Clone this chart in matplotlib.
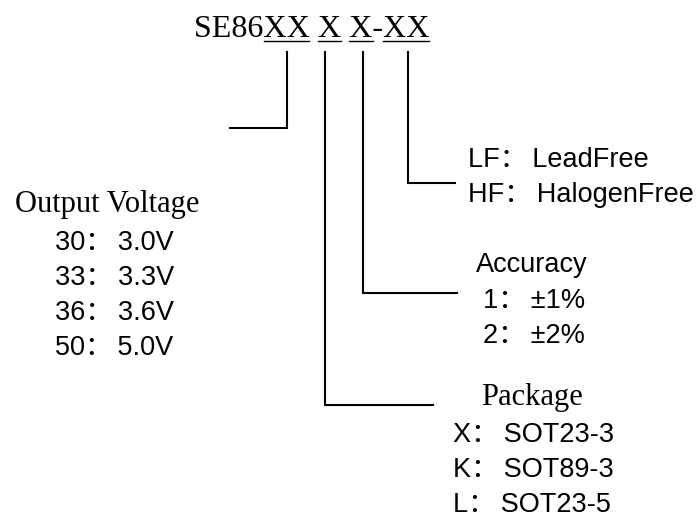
import matplotlib.pyplot as plt

# part number code and its fields
part_code = 'SE86XX X X-XX'
underline_spans = [(264, 309), (318, 341), (349, 373), (383, 429)]

voltage_title = 'Output Voltage'
voltage_codes = ['30', '33', '36', '50']
voltage_values = ['3.0V', '3.3V', '3.6V', '5.0V']

green_codes = ['LF', 'HF']
green_values = ['LeadFree', 'HalogenFree']

accuracy_title = 'Accuracy'
accuracy_codes = ['1', '2']
accuracy_values = ['±1%', '±2%']

package_title = 'Package'
package_codes = ['X', 'K', 'L']
package_values = ['SOT23-3', 'SOT89-3', 'SOT23-5']

serif = ['Liberation Serif', 'DejaVu Serif']
sans = ['Liberation Sans', 'Noto Sans CJK SC']

fig = plt.figure(figsize=(6.99, 5.17), dpi=100)
ax = fig.add_axes([0, 0, 1, 1])
ax.set_xlim(0, 699)
ax.set_ylim(517, 0)
ax.axis('off')

# title and underlines
ax.text(194, 37, part_code, family=serif, fontsize=23, ha='left', va='baseline')
for x0, x1 in underline_spans:
    ax.plot([x0, x1], [41, 41], color='black', lw=1.0)

lw = 1.5
# connectors: (x of vertical, y of elbow, x end of horizontal)
connectors = [(287, 128, 230), (325, 405, 433), (363, 293, 457), (408, 183, 455)]
for xv, ye, xe in connectors:
    ax.plot([xv, xv, xe], [52, ye, ye], color='black', lw=lw,
            solid_joinstyle='miter')

def option_list(x, y0, step, codes, values):
    for i, (c, v) in enumerate(zip(codes, values)):
        ax.text(x, y0 + i * step, c + '：\u2009' + v, family=sans, fontsize=19.5,
                ha='left', va='baseline')

# output voltage
ax.text(15, 212, voltage_title, family=serif, fontsize=22, ha='left', va='baseline')
option_list(55, 250, 35, voltage_codes, voltage_values)

# lead / halogen free
option_list(468, 167, 35, green_codes, green_values)

# accuracy
ax.text(532, 272, accuracy_title, family=sans, fontsize=19.5, ha='center', va='baseline')
option_list(483, 308, 35, accuracy_codes, accuracy_values)

# package
ax.text(532, 405, package_title, family=serif, fontsize=22, ha='center', va='baseline')
option_list(453, 442, 35, package_codes, package_values)

fig.savefig('out.png', dpi=100)
